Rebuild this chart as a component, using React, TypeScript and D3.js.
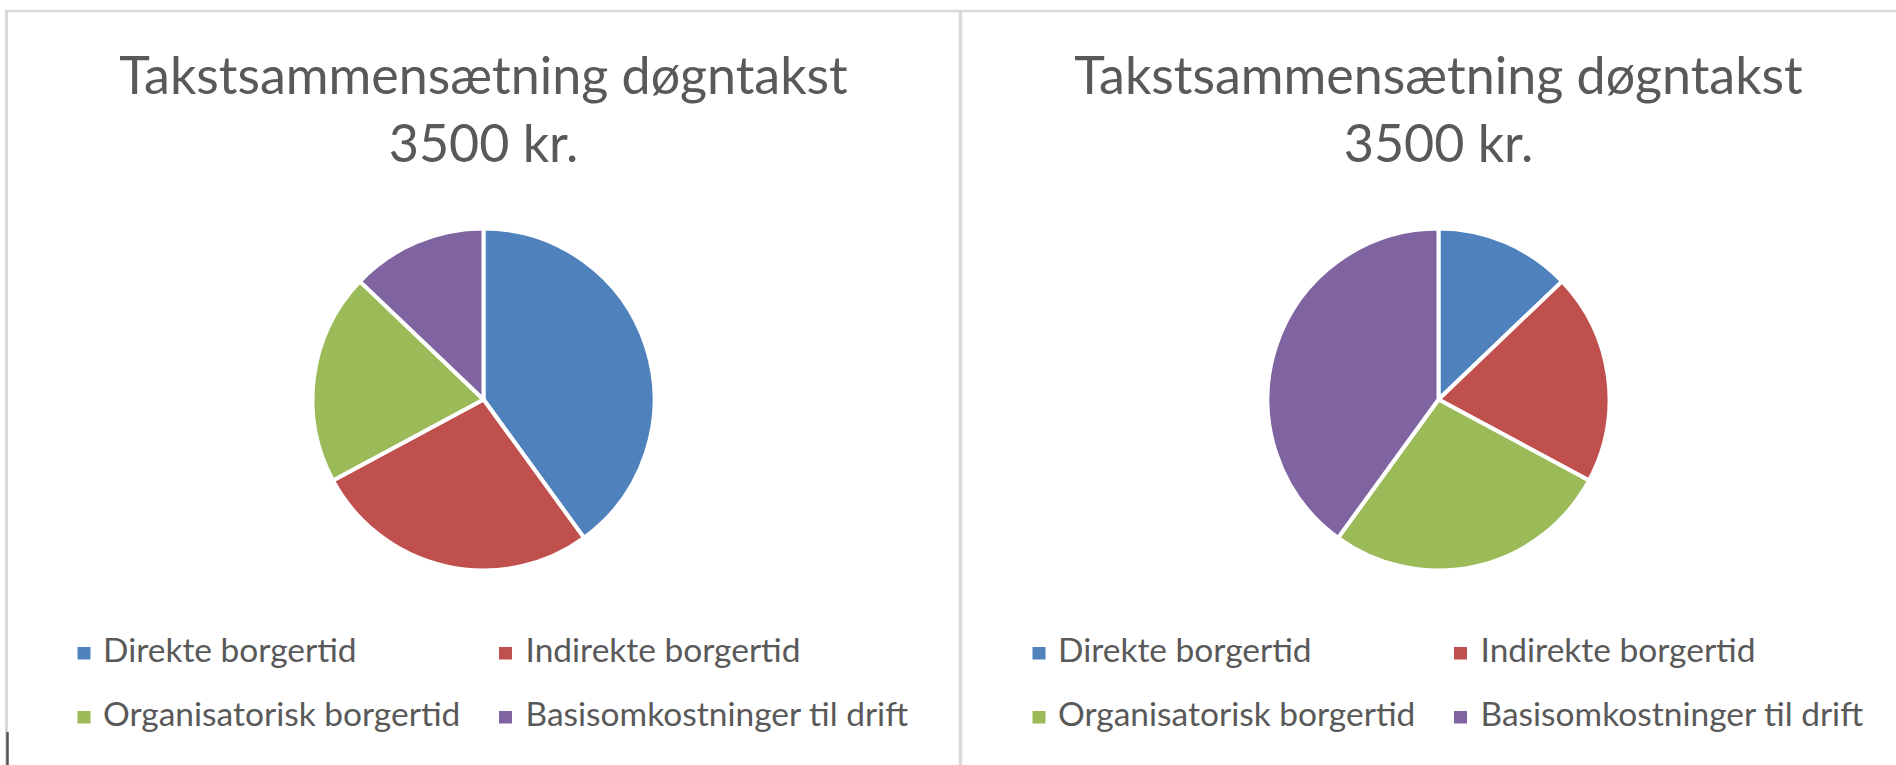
import React from "react";
import * as d3 from "d3";

const categories = [
  "Direkte borgertid",
  "Indirekte borgertid",
  "Organisatorisk borgertid",
  "Basisomkostninger til drift",
];
const leftValues = [1400, 950, 700, 450];
const rightValues = [450, 700, 950, 1400];
const titleLines = ["Takstsammensætning døgntakst", "3500 kr."];
const colors = ["#4F81BD", "#C0504D", "#9BBB59", "#8064A2"];

const W = 1896;
const H = 765;
const FONT = "Lato, 'Open Sans', sans-serif";
const TEXT_COLOR = "#595959";

function Panel({ offsetX, values }: { offsetX: number; values: number[] }) {
  const cx = 483.5;
  const cy = 399.5;
  const r = 171;
  const pie = d3.pie<number>().sort(null).value((d) => d);
  const arcs = pie(values);
  const arcGen = d3.arc<d3.PieArcDatum<number>>().innerRadius(0).outerRadius(r);
  const legendCols = [
    { sq: 77.5, tx: 103 },
    { sq: 499, tx: 525.5 },
  ];
  const rowBase = [662, 726];
  return (
    <g transform={`translate(${offsetX},0)`}>
      <text
        x={cx}
        textAnchor="middle"
        fontFamily={FONT}
        fontSize={52}
        fill={TEXT_COLOR}
      >
        <tspan x={cx} y={94}>{titleLines[0]}</tspan>
        <tspan x={cx} y={161.5}>{titleLines[1]}</tspan>
      </text>
      <g transform={`translate(${cx},${cy})`}>
        {arcs.map((a, i) => (
          <path
            key={i}
            d={arcGen(a) || ""}
            fill={colors[i]}
            stroke="#ffffff"
            strokeWidth={4}
            strokeLinejoin="round"
          />
        ))}
      </g>
      {categories.map((c, i) => {
        const col = legendCols[i % 2];
        const base = rowBase[Math.floor(i / 2)];
        return (
          <g key={c}>
            <rect x={col.sq} y={base - 15} width={13} height={12.5} fill={colors[i]} />
            <text x={col.tx} y={base} fontFamily={FONT} fontSize={33.5} fill={TEXT_COLOR}>
              {c}
            </text>
          </g>
        );
      })}
    </g>
  );
}

export default function App() {
  return (
    <div style={{ position: "absolute", left: 0, top: 0, width: W, height: H, background: "#fff" }}>
      <svg width={W} height={H} style={{ display: "block" }}>
        <rect x={0} y={0} width={W} height={H} fill="#ffffff" />
        {/* frame */}
        <line x1={5} x2={W} y1={11} y2={11} stroke="#d9d9d9" strokeWidth={2.5} />
        <line x1={6.5} x2={6.5} y1={10} y2={H} stroke="#d9d9d9" strokeWidth={3} />
        <line x1={960.5} x2={960.5} y1={10} y2={H} stroke="#d9d9d9" strokeWidth={3.5} />
        <line x1={7.5} x2={7.5} y1={732} y2={H} stroke="#555555" strokeWidth={2.5} />
        <Panel offsetX={0} values={leftValues} />
        <Panel offsetX={955} values={rightValues} />
      </svg>
    </div>
  );
}
